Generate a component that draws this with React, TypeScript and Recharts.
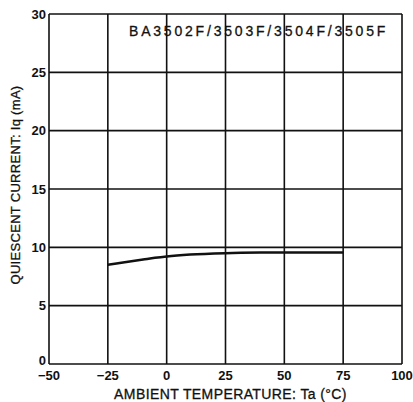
import { LineChart, Line, XAxis, YAxis, CartesianGrid, Label } from 'recharts';

const temps = [-25, -20, -15, -10, -5, 0, 10, 25, 40, 50, 60, 75];
const current = [8.5, 8.65, 8.8, 8.95, 9.1, 9.22, 9.38, 9.5, 9.55, 9.56, 9.56, 9.56];
const xTicks = [-50, -25, 0, 25, 50, 75, 100];
const yTicks = [0, 5, 10, 15, 20, 25, 30];
const partNames = 'BA3502F/3503F/3504F/3505F';

const data = temps.map((t, i) => ({ t, iq: current[i] }));

const font = '"Liberation Sans", Arial, sans-serif';
const tickStyle = { fontFamily: font, fontSize: 13, fontWeight: 'bold', fill: '#111' };

// the "0" on the y axis sits a bit above the bottom edge so it clears "-50"
function YTick(props: any) {
    const { x, y, payload } = props;
    const lift = payload.value === 0 ? -4 : 0;
    return (
        <text x={x} y={y + lift} dy="0.355em" textAnchor="end" {...tickStyle}>
            {payload.value}
        </text>
    );
}

export default function App() {
    return (
        <div style={{ position: 'absolute', left: 0, top: 0, width: 413, height: 402, background: '#fff' }}>
            <LineChart
                width={413}
                height={402}
                data={data}
                margin={{ top: 14, right: 11, left: 0, bottom: 0 }}
            >
                <CartesianGrid stroke="#111" strokeWidth={1.6} />
                <XAxis
                    dataKey="t"
                    type="number"
                    domain={[-50, 100]}
                    ticks={xTicks}
                    height={38}
                    axisLine={false}
                    tickLine={false}
                    tickSize={0}
                    tickMargin={7}
                    tick={tickStyle}
                    tickFormatter={(v) => (v < 0 ? `\u2212${-v}` : `${v}`)}
                    interval={0}
                >
                    <Label
                        value="AMBIENT TEMPERATURE: Ta (°C)"
                        position="insideBottom"
                        offset={3}
                        dx={5}
                        style={{ fontFamily: font, fontSize: 14, fill: '#111', letterSpacing: 0.4, stroke: '#111', strokeWidth: 0.3 }}
                    />
                </XAxis>
                <YAxis
                    type="number"
                    domain={[0, 30]}
                    ticks={yTicks}
                    width={49}
                    axisLine={false}
                    tickLine={false}
                    tickSize={0}
                    tickMargin={3}
                    tick={<YTick />}
                    interval={0}
                >
                    <Label
                        value="QUIESCENT CURRENT: Iq (mA)"
                        angle={-90}
                        position="center"
                        dx={-9}
                        dy={-4}
                        style={{ fontFamily: font, fontSize: 13, fill: '#111', letterSpacing: 0.3, stroke: '#111', strokeWidth: 0.3 }}
                    />
                </YAxis>
                <Line
                    dataKey="iq"
                    type="monotone"
                    stroke="#111"
                    strokeWidth={2.5}
                    dot={false}
                    isAnimationActive={false}
                />
            </LineChart>
            <div
                style={{
                    position: 'absolute',
                    left: 129,
                    top: 22,
                    fontFamily: font,
                    fontSize: 14,
                    lineHeight: '18px',
                    letterSpacing: 2.8,
                    color: '#111',
                    whiteSpace: 'nowrap',
                    WebkitTextStroke: '0.3px #111',
                }}
            >
                {partNames}
            </div>
        </div>
    );
}
